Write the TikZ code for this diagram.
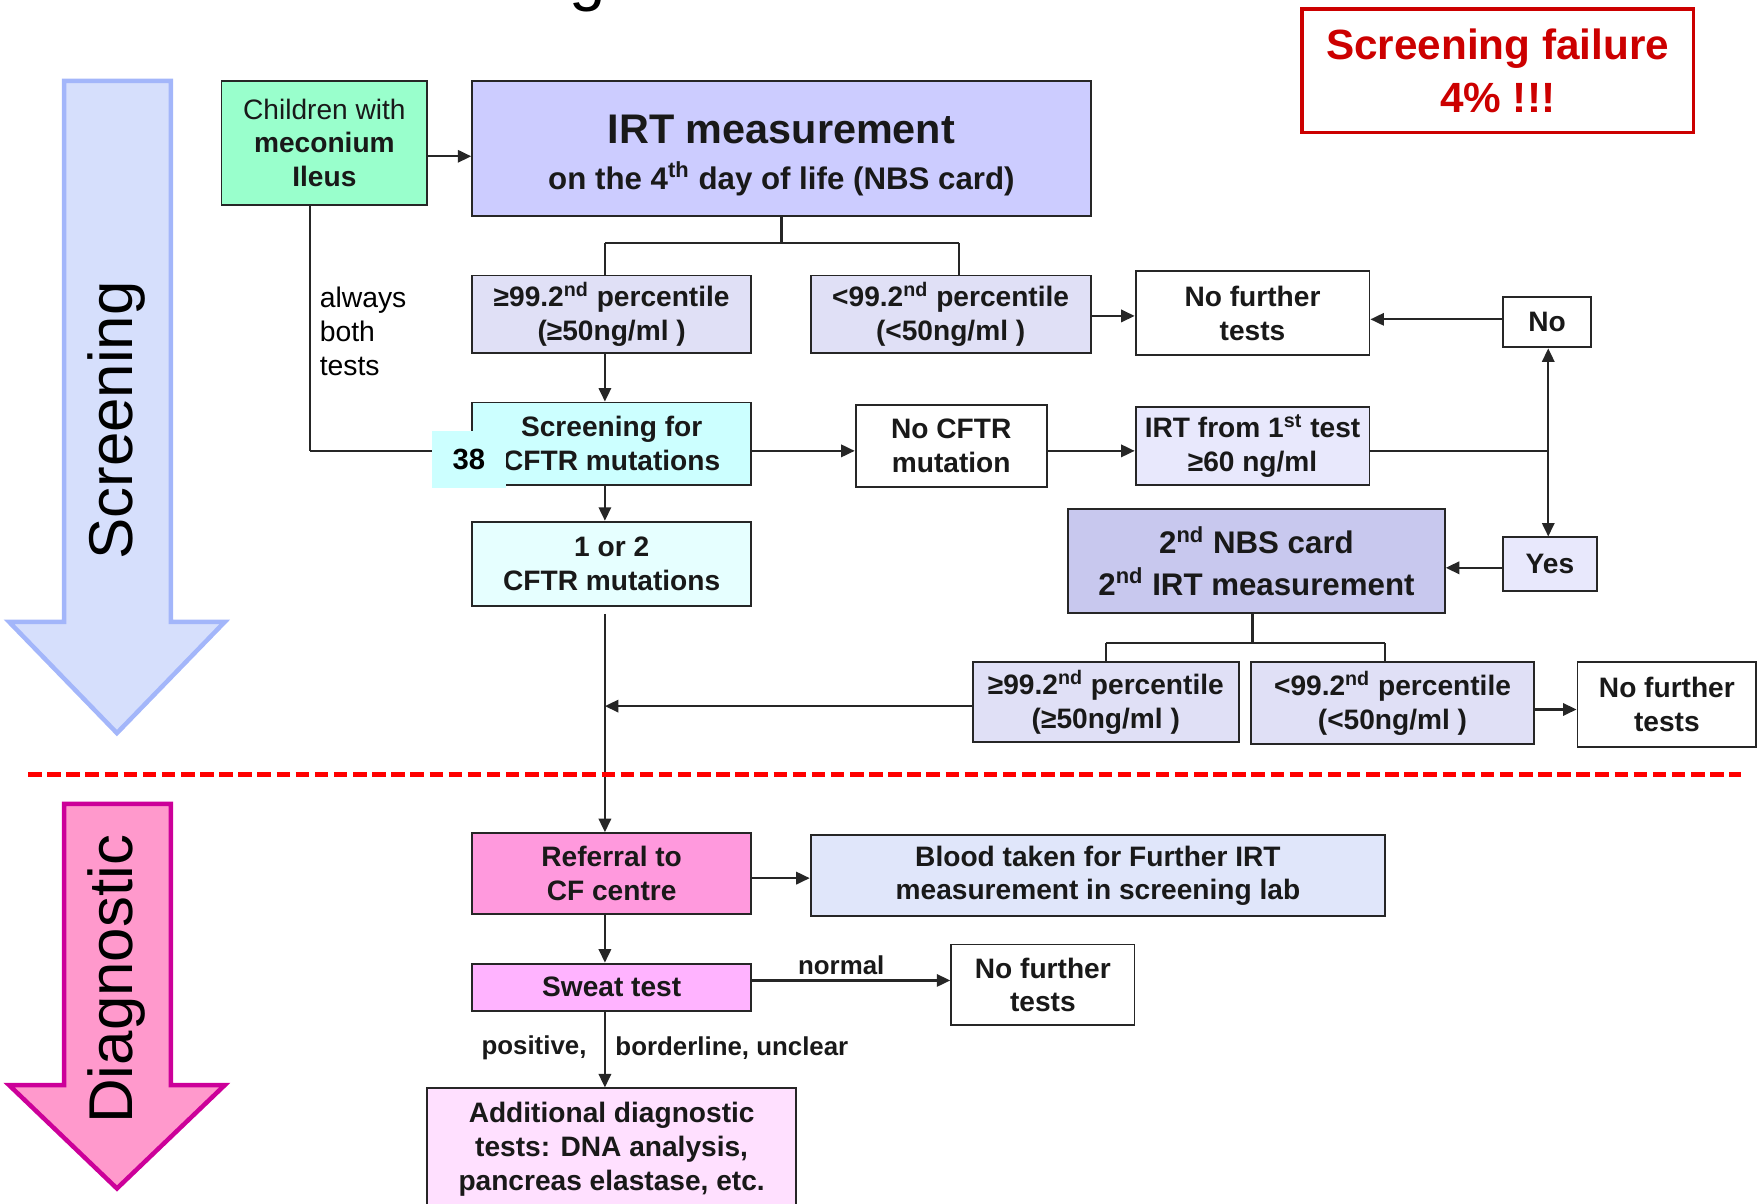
\documentclass[tikz,border=0pt]{standalone}
\usepackage{fontspec}
\setmainfont{Liberation Sans}
\usetikzlibrary{arrows.meta,calc}
\definecolor{mint}{HTML}{99FFCC}
\definecolor{irtc}{HTML}{CCCCFF}
\definecolor{pct}{HTML}{E0E0F6}
\definecolor{lav}{HTML}{E8E8FC}
\definecolor{nbsc}{HTML}{C8C8EE}
\definecolor{cyanA}{HTML}{CCFFFF}
\definecolor{cyanB}{HTML}{E6FFFF}
\definecolor{refc}{HTML}{FF99DD}
\definecolor{bloodc}{HTML}{E0E6FA}
\definecolor{sweatc}{HTML}{FFB3FF}
\definecolor{addc}{HTML}{FFE0FF}
\definecolor{failred}{HTML}{CC0000}
\definecolor{scrfill}{HTML}{D6DFFC}
\definecolor{scredge}{HTML}{A3B6FA}
\definecolor{diafill}{HTML}{FF99CC}
\definecolor{diaedge}{HTML}{CC0099}
\newcommand\mybox[7]{\node[bx,#6,minimum width={0.5*(#4-#2)},minimum height={0.5*(#5-#3)}] (#1) at ({(#2+#4)/2},{(#3+#5)/2}) {#7};}
\tikzset{
  bx/.style={draw=black!85, line width=0.85pt, inner sep=0pt, align=center,
    font=\bfseries\fontsize{12.5pt}{15pt}\selectfont, text=black!90},
  ln/.style={line width=0.95pt, draw=black!85},
  arr/.style={ln, -{Triangle[length=6pt,width=5.5pt]}},
  lbl/.style={inner sep=0pt, font=\bfseries\fontsize{11.5pt}{13pt}\selectfont, text=black!90},
  bigarrow/.style={line width=2pt, line join=miter},
}
\begin{document}
\begin{tikzpicture}[x=0.5pt,y=-0.5pt]
\useasboundingbox (0,0) rectangle (1568,1070);
% cut-off title fragment
\node[anchor=base, inner sep=0pt, font=\fontsize{29pt}{30pt}\selectfont] (ttl) at (523,-1) {g};
% phase arrows
\draw[bigarrow, draw=scredge, fill=scrfill] (57,72) -- (152,72) -- (152,553) -- (200,553) -- (104,652) -- (8,553) -- (57,553) -- cycle;
\node[rotate=90, inner sep=0pt, font=\fontsize{27.5pt}{30pt}\selectfont] (scrlbl) at (104,374) {Screening};
\draw[bigarrow, draw=diaedge, fill=diafill] (57,715) -- (152,715) -- (152,965) -- (200,965) -- (104,1057) -- (8,965) -- (57,965) -- cycle;
\node[rotate=90, inner sep=0pt, font=\fontsize{27.5pt}{30pt}\selectfont] (dialbl) at (104,871) {Diagnostic};
% failure box
\mybox{fail}{1158}{8}{1506}{118}{draw=failred, line width=1.5pt, text=failred, font=\bfseries\fontsize{18.8pt}{23.5pt}\selectfont}{Screening failure\\4\% !!!}
% screening boxes
\mybox{child}{197}{72}{380}{182}{fill=mint}{{\mdseries Children with}\\meconium\\Ileus}
\mybox{irt}{420}{72}{970}{192}{fill=irtc, label={[yshift=-3pt, inner sep=0pt, align=center, text=black!90, font=\bfseries\fontsize{13.9pt}{20.5pt}\selectfont]center:{{\fontsize{18.4pt}{20.5pt}\selectfont IRT measurement}\\on the 4\textsuperscript{th} day of life (NBS card)}}}{}
\mybox{phA}{420}{245}{668}{314}{fill=pct}{≥99.2\textsuperscript{nd} percentile\\(≥50ng/ml )}
\mybox{plA}{721}{245}{970}{314}{fill=pct}{<99.2\textsuperscript{nd} percentile\\(<50ng/ml )}
\mybox{nfA}{1010}{241}{1218}{316}{fill=white}{No further\\tests}
\mybox{nob}{1337}{264}{1415}{309}{fill=white}{No}
\mybox{scr}{420}{358}{668}{431}{fill=cyanA}{Screening for\\CFTR mutations}
\mybox{nocftr}{761}{360}{931}{433}{fill=white}{No CFTR\\mutation}
\mybox{irtfirst}{1010}{362}{1218}{431}{fill=lav}{IRT from 1\textsuperscript{st} test\\≥60 ng/ml}
\mybox{yes}{1337}{478}{1420}{526}{fill=lav}{Yes}
\mybox{nbs}{950}{453}{1285}{545}{fill=nbsc, font=\bfseries\fontsize{13.9pt}{18.5pt}\selectfont}{2\textsuperscript{nd} NBS card\\2\textsuperscript{nd} IRT measurement}
\mybox{phB}{865}{589}{1102}{660}{fill=pct}{≥99.2\textsuperscript{nd} percentile\\(≥50ng/ml )}
\mybox{plB}{1113}{589}{1364}{662}{fill=pct}{<99.2\textsuperscript{nd} percentile\\(<50ng/ml )}
\mybox{nfB}{1403}{589}{1562}{664}{fill=white}{No further\\tests}
\mybox{mut}{420}{464}{668}{539}{fill=cyanB}{1 or 2\\CFTR mutations}
% diagnostic boxes
\mybox{ref}{420}{741}{668}{813}{fill=refc}{Referral to\\CF centre}
\mybox{blood}{721}{743}{1232}{815}{fill=bloodc}{Blood taken for Further IRT\\measurement in screening lab}
\mybox{sweat}{420}{857}{668}{899}{fill=sweatc}{Sweat test}
\mybox{nfC}{846}{840}{1009}{912}{fill=white}{No further\\tests}
\mybox{add}{380}{968}{708}{1076}{fill=addc, font=\bfseries\fontsize{12.5pt}{15.2pt}\selectfont}{Additional diagnostic\\tests: DNA analysis,\\pancreas elastase, etc.}
% junctions
\coordinate (bL1) at (538,216);
\coordinate (bR1) at (853,216);
\coordinate (j1) at (276,401);
\coordinate (j2) at (1377,401);
\coordinate (bL2) at (984,572);
\coordinate (bR2) at (1232,572);
\coordinate (jm) at (538,628);
\coordinate (mstart) at (538,546);
% connectors
\draw[arr] (child.east |- 0,139) -- (irt.west |- 0,139);
\draw[ln] (irt.south) -- (irt.south |- bL1);
\draw[ln] (bL1) -- (bR1);
\draw[ln] (bL1) -- (bL1 |- phA.north);
\draw[ln] (bR1) -- (bR1 |- plA.north);
\draw[arr] (plA.east |- 0,281) -- (nfA.west |- 0,281);
\draw[arr] (nob.west |- 0,284) -- (nfA.east |- 0,284);
\draw[arr] (bL1 |- phA.south) -- (bL1 |- scr.north);
\draw[ln] (child.south -| j1) -- (j1);
\draw[arr] (j1) -- (j1 -| scr.west);
\draw[arr] (scr.east |- j1) -- (nocftr.west |- j1);
\draw[arr] (nocftr.east |- j1) -- (irtfirst.west |- j1);
\draw[ln] (irtfirst.east |- j2) -- (j2);
\draw[arr] (j2) -- (j2 |- nob.south);
\draw[arr] (j2) -- (j2 |- yes.north);
\draw[arr] (yes.west |- 0,505) -- (nbs.east |- 0,505);
\draw[ln] (nbs.south -| 1114,0) -- (1114,572);
\draw[ln] (bL2) -- (bR2);
\draw[ln] (bL2) -- (bL2 |- phB.north);
\draw[ln] (bR2) -- (bR2 |- plB.north);
\draw[arr] (plB.east |- 0,631) -- (nfB.west |- 0,631);
\draw[arr] (phB.west |- jm) -- (jm);
\draw[arr] (bL1 |- scr.south) -- (bL1 |- mut.north);
\draw[arr] (mstart) -- (mstart |- ref.north);
\draw[arr] (ref.east |- 0,781) -- (blood.west |- 0,781);
\draw[arr] (bL1 |- ref.south) -- (bL1 |- sweat.north);
\draw[arr] (sweat.east |- 0,872) -- (nfC.west |- 0,872) node[lbl, pos=0.45, above=2pt] (lnormal) {normal};
\draw[arr] (bL1 |- sweat.south) -- (bL1 |- add.north);
\node[lbl, anchor=east] (lpos) at (522,932) {positive,};
\node[lbl, anchor=west] (lbord) at (547,932) {borderline, unclear};
\node[inner sep=0pt, anchor=north west, align=left, font=\fontsize{12.6pt}{15pt}\selectfont] (lalways) at (284,255) {always\\both\\tests};
% dashed separator
\draw[draw=red, line width=2pt, dash pattern=on 6pt off 2.5pt] (25,689) -- (1548,689);
% slide number overlay
\node[fill=cyanA, minimum width=33pt, minimum height=25.5pt, inner sep=0pt, font=\bfseries\fontsize{13pt}{15pt}\selectfont] (n38) at (417,408.5) {38};
\end{tikzpicture}
\end{document}
